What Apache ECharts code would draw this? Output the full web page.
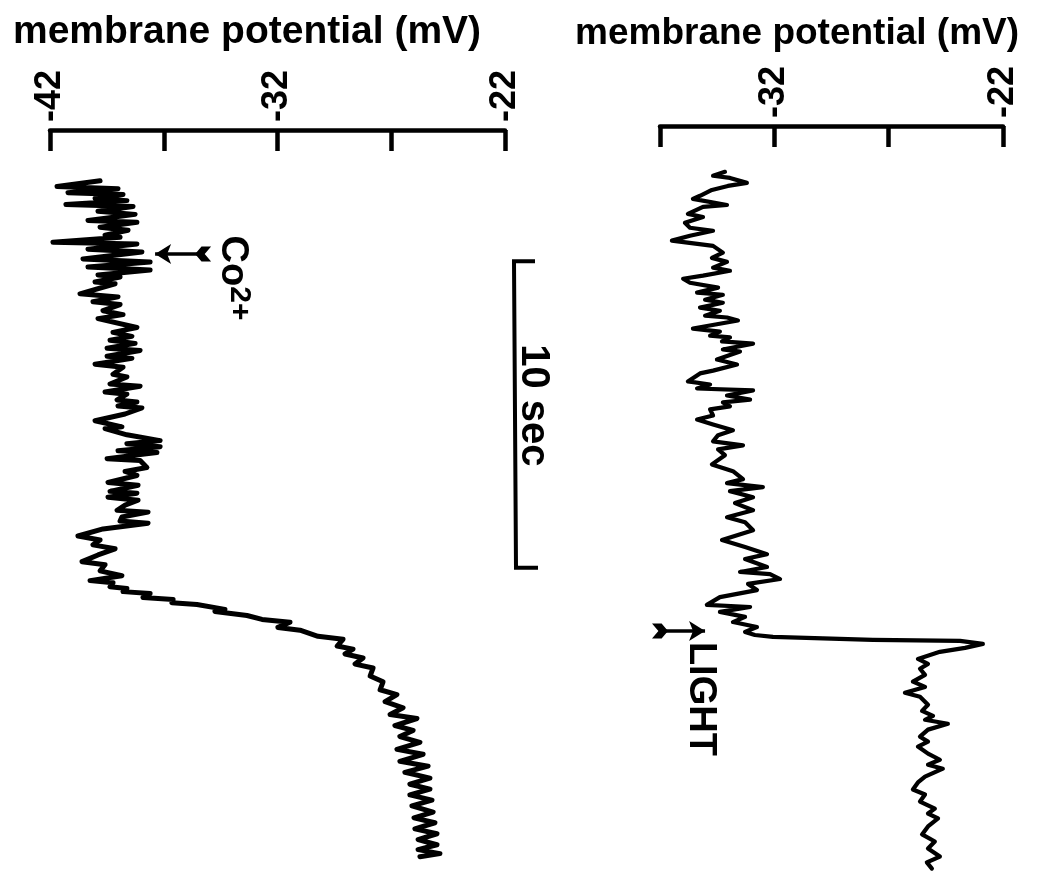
<!DOCTYPE html>
<html><head><meta charset="utf-8">
<script src="https://cdn.jsdelivr.net/npm/echarts@6/dist/echarts.min.js"></script>
<style>html,body{margin:0;padding:0;background:#fff}#c{width:1052px;height:879px}</style>
</head><body><div id="c"></div>
<script>
// ---- data (time in s, membrane potential in mV) ----
const leftTime = [1.66,1.85,1.92,2.05,2.11,2.24,2.31,2.44,2.50,2.66,2.76,2.96,3.02,3.18,3.28,3.44,3.51,3.67,3.73,3.90,3.99,4.22,4.32,4.48,4.58,4.74,4.81,4.97,5.03,5.36,5.46,5.62,5.71,5.91,6.04,
 6.17,6.46,6.62,6.75,6.88,6.98,7.14,7.21,7.40,7.47,7.66,7.76,7.99,8.08,8.31,8.38,8.57,8.64,8.83,8.90,9.03,9.09,9.29,9.51,9.71,9.77,9.97,10.16,10.26,10.36,10.49,10.55,10.75,10.81,
 11.04,11.17,11.30,11.53,11.62,11.82,11.88,12.01,12.11,12.27,12.44,12.50,12.66,12.79,12.86,13.05,13.28,13.41,13.57,13.70,13.90,14.12,14.22,14.42,14.58,14.74,14.81,14.94,15.00,15.10,15.16,15.29,15.36,15.46,15.52,
 15.68,15.75,15.88,16.01,16.10,16.27,16.36,16.56,16.66,16.88,16.98,17.14,17.27,17.47,17.60,17.86,18.05,18.31,18.47,18.70,18.90,19.12,19.25,19.48,19.64,19.84,20.03,20.26,20.42,20.65,20.81,21.01,21.20,21.40,21.56,21.75,21.92,22.11,22.31,22.50,22.66,22.86,23.02,23.21,23.38,23.54,23.67,23.77];
const leftMv = [-39.80,-41.69,-39.01,-41.21,-38.79,-40.02,-38.62,-41.30,-38.35,-39.89,-38.26,-40.33,-38.18,-39.80,-38.57,-39.58,-38.92,-41.87,-38.18,-40.33,-37.96,-40.55,-37.60,-40.33,-37.60,-39.89,-38.92,-40.02,-39.14,-40.68,-39.01,-40.11,-38.92,-39.67,-38.79,
 -39.89,-38.18,-39.23,-38.40,-39.36,-38.26,-39.49,-38.04,-39.49,-38.40,-40.02,-38.79,-39.23,-38.62,-39.36,-38.04,-39.58,-38.62,-39.05,-38.18,-39.01,-37.96,-38.70,-40.02,-38.84,-39.58,-38.62,-37.16,-38.62,-37.16,-39.01,-37.30,-39.49,-38.04,
 -37.74,-38.70,-38.18,-39.45,-38.13,-39.36,-38.18,-39.45,-38.13,-38.70,-39.05,-37.69,-38.84,-38.92,-37.69,-39.67,-40.77,-39.80,-40.11,-39.14,-39.89,-40.59,-39.58,-39.80,-38.84,-40.24,-39.23,-39.36,-38.62,-38.79,-37.60,-37.91,-36.59,-36.64,-35.54,
 -34.31,-34.75,-33.34,-32.68,-31.45,-31.98,-31.01,-30.22,-29.12,-29.38,-28.68,-29.03,-28.24,-28.59,-27.80,-27.93,-27.36,-27.49,-26.75,-27.27,-26.48,-27.05,-25.87,-26.84,-26.04,-26.62,-25.74,-26.75,-25.60,-26.62,-25.38,-26.40,-25.30,-26.18,-25.30,-26.18,-25.21,-26.09,-25.16,-26.00,-25.08,-25.96,-24.99,-25.82,-24.99,-25.82,-24.86,-25.74];

const rightTime = [1.49,1.62,1.69,1.85,1.95,2.08,2.27,2.37,2.57,2.63,2.86,2.96,3.15,3.31,3.41,3.57,3.73,3.90,4.12,4.29,4.42,4.61,4.71,4.87,4.97,5.10,5.26,5.42,5.49,5.65,5.75,5.91,6.01,6.17,6.23,6.33,6.59,6.69,6.82,6.88,7.01,7.08,7.27,7.34,7.60,7.76,7.96,8.05,8.31,8.41,8.54,8.60,8.77,8.90,8.99,9.12,9.22,9.42,9.55,9.71,9.90,10.06,10.26,10.39,10.52,10.71,11.01,11.23,11.49,11.62,11.75,11.88,12.08,12.27,12.50,12.73,12.89,13.15,13.47,13.70,13.93,14.09,14.35,14.51,14.58,14.74,14.90,15.10,15.33,15.58,15.65,15.81,15.97,16.14,16.30,16.46,16.56,
 16.62,16.72,16.75,16.85,16.98,17.11,17.21,17.34,17.50,17.66,17.86,18.08,18.25,18.44,18.57,18.83,19.03,19.19,19.32,19.45,19.64,19.87,20.03,20.19,20.42,20.62,20.78,20.91,21.17,21.36,21.59,21.75,21.98,22.21,22.37,22.53,22.79,23.05,23.28,23.51,23.77,23.96,24.16];
const rightMv = [-34.16,-34.68,-33.94,-33.20,-34.03,-34.73,-35.25,-35.56,-34.07,-35.12,-35.78,-35.12,-35.91,-35.69,-34.68,-35.69,-36.48,-34.68,-34.25,-34.73,-34.07,-34.68,-33.94,-35.12,-35.99,-35.69,-34.46,-35.38,-34.25,-35.03,-34.25,-35.25,-34.38,-35.03,-34.07,-33.59,-35.56,-34.38,-34.81,-33.94,-34.29,-32.93,-34.25,-33.50,-34.51,-33.63,-34.68,-35.25,-35.78,-34.81,-35.38,-32.93,-34.07,-33.06,-34.25,-33.94,-34.81,-34.68,-35.38,-34.68,-33.81,-34.46,-34.68,-33.37,-34.46,-34.16,-34.73,-33.81,-33.37,-34.07,-32.50,-33.94,-32.93,-33.72,-32.93,-34.07,-33.28,-32.93,-34.29,-33.28,-32.32,-33.28,-32.32,-33.50,-32.19,-31.75,-33.15,-32.76,-34.38,-34.95,-33.06,-34.38,-33.28,-33.81,-32.76,-33.28,-32.85,
 -32.06,-27.69,-23.88,-22.88,-23.66,-24.76,-25.19,-25.72,-25.28,-25.63,-25.41,-25.94,-25.41,-26.29,-25.63,-25.28,-25.54,-25.06,-25.41,-24.41,-25.28,-25.63,-25.28,-25.72,-25.28,-24.76,-25.28,-24.63,-25.41,-25.72,-25.94,-25.41,-25.63,-24.98,-25.28,-24.84,-25.28,-25.54,-24.98,-25.28,-24.76,-25.33,-25.11];

const leftTickLabels = [-42, -32, -22];
const rightTickLabels = [-32, -22];
const co2Arrow = {time: 4.06, fromMv: -35.27, toMv: -37.38};
const co2Label = {time: 4.84, mv: -34.0};
const lightArrow = {time: 16.43, fromMv: -37.0, toMv: -35.03};
const lightLabel = {time: 18.64, mv: -35.25};
const scaleBar = {start: 4.35, length: 10};

// ---- chart ----
const FONT = '"Liberation Sans", Arial, Helvetica, sans-serif';
const zip = (t, v) => t.map((ti, i) => [v[i], ti]);
const pxPerSec = 30.8, tMax = 24.5;
const gridH = pxPerSec * tMax;

function potAxis(grid, min, labels) {
  return {
    gridIndex: grid, type: 'value', position: 'top', min: min, max: -22, interval: 5,
    axisLine: {show: true, onZero: false, lineStyle: {color: '#000', width: 4.5}},
    axisTick: {show: true, inside: true, length: 21, lineStyle: {color: '#000', width: 4.5}},
    axisLabel: {show: true, rotate: -90, margin: 8, fontSize: 36, fontWeight: 'bold', fontFamily: FONT, color: '#000',
      formatter: v => labels.indexOf(v) >= 0 ? String(v) : ''},
    splitLine: {show: false}
  };
}
function timeAxis(grid) {
  return {gridIndex: grid, type: 'value', inverse: true, min: 0, max: tMax, show: false};
}
const fletch = 'path://M0,0 L5,4 L10,0 L10,6 L5,10 L0,6 Z';
const arrowLine = (a) => ({
  silent: true, animation: false, symbol: [fletch, 'arrow'], symbolSize: [15, 16],
  lineStyle: {color: '#000', width: 3.5, type: 'solid'}, label: {show: false},
  data: [[{coord: [a.fromMv, a.time]}, {coord: [a.toMv, a.time]}]]
});
const textPoint = (mv, t, label) => ({
  silent: true, animation: false,
  data: [{coord: [mv, t], symbol: 'circle', symbolSize: 1, itemStyle: {color: 'rgba(0,0,0,0)'},
    label: Object.assign({show: true, position: 'inside', rotate: -90, fontFamily: FONT, color: '#000'}, label)}]
});

const chart = echarts.init(document.getElementById('c'), null, {renderer: 'canvas'});
chart.setOption({
  animation: false,
  backgroundColor: '#fff',
  title: [
    {text: 'membrane potential (mV)', left: 8, top: 8, textStyle: {fontSize: 39, fontWeight: 'bold', fontFamily: FONT, color: '#000'}},
    {text: 'membrane potential (mV)', left: 570, top: 10, textStyle: {fontSize: 37, fontWeight: 'bold', fontFamily: FONT, color: '#000'}}
  ],
  grid: [
    {left: 50, top: 130, width: 455, height: gridH},
    {left: 660, top: 126, width: 343, height: gridH},
    {left: 505, top: 128, width: 40, height: gridH}
  ],
  xAxis: [
    potAxis(0, -42, leftTickLabels),
    potAxis(1, -37, rightTickLabels),
    {gridIndex: 2, type: 'value', min: 0, max: 40, show: false}
  ],
  yAxis: [timeAxis(0), timeAxis(1), timeAxis(2)],
  series: [
    {
      name: 'Co2+', type: 'line', xAxisIndex: 0, yAxisIndex: 0, clip: false,
      data: zip(leftTime, leftMv), showSymbol: false, symbol: 'none',
      lineStyle: {color: '#000', width: 5, join: 'round', cap: 'round'},
      markLine: arrowLine(co2Arrow),
      markPoint: textPoint(co2Label.mv, co2Label.time, {
        formatter: '{a|Co}{b|2+}',
        rich: {a: {fontSize: 38, fontWeight: 'bold', fontFamily: FONT, color: '#000', lineHeight: 44},
               b: {fontSize: 30, fontWeight: 'bold', fontFamily: FONT, color: '#000', verticalAlign: 'top', lineHeight: 44, padding: [0, 0, 12, 0]}}
      })
    },
    {
      name: 'light', type: 'line', xAxisIndex: 1, yAxisIndex: 1, clip: false,
      data: zip(rightTime, rightMv), showSymbol: false, symbol: 'none',
      lineStyle: {color: '#000', width: 4.2, join: 'round', cap: 'round'},
      markLine: arrowLine(lightArrow),
      markPoint: textPoint(lightLabel.mv, lightLabel.time, {formatter: 'LIGHT', fontSize: 38, fontWeight: 'bold'})
    },
    {
      name: 'scale', type: 'line', xAxisIndex: 2, yAxisIndex: 2, clip: false,
      data: [[30, scaleBar.start], [9, scaleBar.start], [11, scaleBar.start + scaleBar.length], [33, scaleBar.start + scaleBar.length]],
      showSymbol: false, symbol: 'none',
      lineStyle: {color: '#000', width: 4, join: 'miter'},
      markPoint: textPoint(28, scaleBar.start + scaleBar.length / 2 - 0.3, {formatter: '10 sec', fontSize: 40, fontWeight: 'bold'})
    }
  ]
});
</script></body></html>
